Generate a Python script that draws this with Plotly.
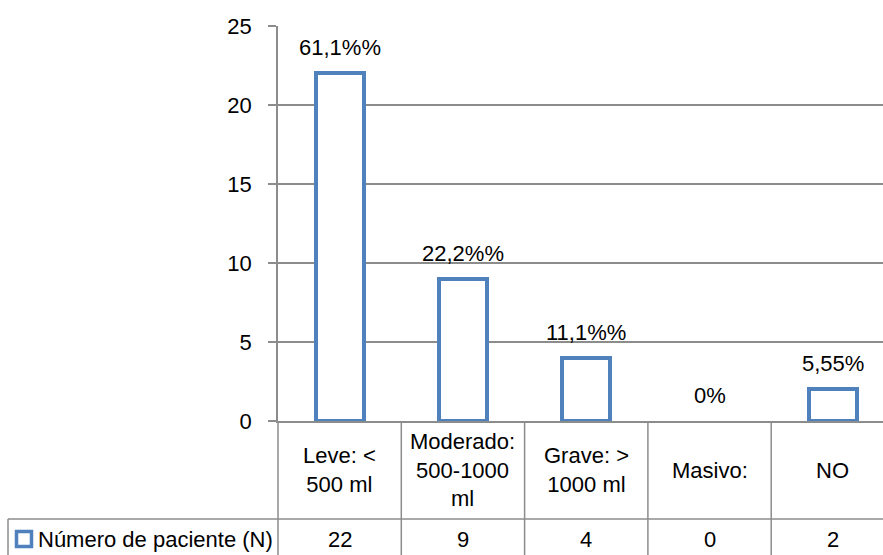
import plotly.graph_objects as go

# Data
categories = [["Leve: <", "500 ml"],
              ["Moderado:", "500-1000", "ml"],
              ["Grave: >", "1000 ml"],
              ["Masivo:"],
              ["NO"]]
patients = [22, 9, 4, 0, 2]
pct_labels = ["61,1%%", "22,2%%", "11,1%%", "0%", "5,55%"]
series_name = "Número de paciente (N)"
y_ticks = [0, 5, 10, 15, 20, 25]

W, H = 883, 555
ML, MR, MT, MB = 278, 0, 26, 134
PW, PH = W - ML - MR, H - MT - MB

BLUE = "#4F81BD"
GRID = "#8C8C8C"
FONT = dict(family="Liberation Sans, Arial, sans-serif", size=22, color="black")


def px(x):
    """pixel x -> paper x"""
    return (x - ML) / PW


def py(y):
    """pixel y -> paper y"""
    return (H - MB - y) / PH


n = len(patients)
xs = list(range(n))

# empty categories get no outline
line_widths = [4 if v > 0 else 0 for v in patients]

fig = go.Figure()
fig.add_trace(go.Bar(
    x=xs, y=patients, width=0.39,
    marker=dict(color="white", line=dict(color=BLUE, width=line_widths)),
    name=series_name, showlegend=False, cliponaxis=False,
))

# percentage labels above the bars
for i, (v, t) in enumerate(zip(patients, pct_labels)):
    fig.add_annotation(x=i, y=v, xref="x", yref="y", text=t, showarrow=False,
                       yanchor="middle", yshift=25.5, font=FONT)

shapes = []
row_sep = 519
# data table: vertical column borders
for b in [i + 0.5 for i in range(n - 1)]:
    shapes.append(dict(type="line", xref="x", yref="paper", x0=b, x1=b,
                       y0=py(H - MB), y1=py(H + 5), line=dict(color=GRID, width=1.5)))
# axis line continued down through the table
shapes.append(dict(type="line", xref="paper", yref="paper", x0=0, x1=0,
                   y0=py(H - MB), y1=py(H + 5), line=dict(color=GRID, width=1.5)))
# row separator
shapes.append(dict(type="line", xref="paper", yref="paper", x0=px(8), x1=px(W + 5),
                   y0=py(row_sep), y1=py(row_sep), line=dict(color=GRID, width=1.5)))
# left border of the series-name cell
shapes.append(dict(type="line", xref="paper", yref="paper", x0=px(8), x1=px(8),
                   y0=py(row_sep), y1=py(H + 5), line=dict(color=GRID, width=1.5)))
# legend key
shapes.append(dict(type="rect", xref="paper", yref="paper", x0=px(16.5), x1=px(31.5),
                   y0=py(531.5), y1=py(546.5), fillcolor="white",
                   line=dict(color=BLUE, width=3.5)))
fig.update_layout(shapes=shapes)

# table text: categories and values
cat_mid = (H - MB + row_sep) / 2
val_mid = 539
for i, (lines, v) in enumerate(zip(categories, patients)):
    fig.add_annotation(x=i, y=py(cat_mid), xref="x", yref="paper",
                       text="<br>".join(lines), showarrow=False, yanchor="middle",
                       align="center", font=FONT)
    fig.add_annotation(x=i, y=py(val_mid), xref="x", yref="paper", text=str(v),
                       showarrow=False, yanchor="middle", font=FONT)
fig.add_annotation(x=px(36), y=py(val_mid), xref="paper", yref="paper",
                   text=series_name, showarrow=False, xanchor="left",
                   yanchor="middle", font=FONT)

# columns are ~123 px wide; the last column runs past the right edge
col_w = 123.3
fig.update_xaxes(range=[-0.5, -0.5 + PW / col_w], showticklabels=False, ticks="",
                 showgrid=False, zeroline=False, showline=True, linecolor=GRID,
                 linewidth=1.5, fixedrange=True)
fig.update_yaxes(range=[0, 25], tickvals=y_ticks, ticks="outside", ticklen=8,
                 tickcolor=GRID, tickwidth=1.5, ticklabelstandoff=12,
                 showgrid=True, gridcolor=GRID, gridwidth=1.5, zeroline=False,
                 showline=True, linecolor=GRID, linewidth=1.5, tickfont=FONT)

fig.update_layout(width=W, height=H, autosize=False,
                  margin=dict(l=ML, r=MR, t=MT, b=MB, pad=0),
                  plot_bgcolor="white", paper_bgcolor="white",
                  font=FONT, bargap=0)

fig.write_html("out.html", config={"displayModeBar": False})
